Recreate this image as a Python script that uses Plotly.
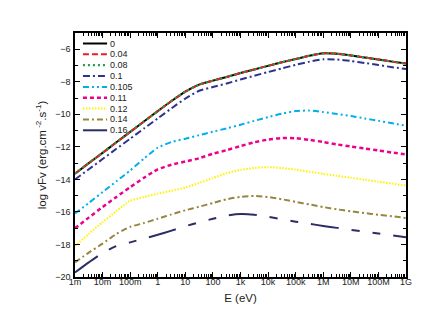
import plotly.graph_objects as go

# energies in eV (half-decade grid)
energy = [1e-3, 3.16e-3, 1e-2, 3.16e-2, 1e-1, 3.16e-1, 1, 3.16, 10, 31.6, 100, 316,
          1e3, 3.16e3, 1e4, 3.16e4, 1e5, 3.16e5, 1e6, 3.16e6, 1e7, 3.16e7, 1e8, 3.16e8, 1e9]

# log vFv for each parameter value
s_0 = [-13.65, -13.0, -12.37, -11.72, -11.08, -10.44, -9.8, -9.18, -8.6, -8.17, -7.93, -7.7,
       -7.46, -7.24, -7.02, -6.8, -6.6, -6.4, -6.25, -6.27, -6.38, -6.5, -6.63, -6.76, -6.88]
s_004 = list(s_0)
s_008 = list(s_0)
s_01 = [-14.0, -13.38, -12.75, -12.12, -11.5, -10.87, -10.25, -9.63, -9.03, -8.55, -8.32, -8.1,
        -7.86, -7.63, -7.4, -7.18, -6.96, -6.76, -6.62, -6.63, -6.72, -6.84, -6.97, -7.1, -7.22]
s_0105 = [-16.1, -15.45, -14.78, -14.12, -13.45, -12.72, -12.05, -11.7, -11.5, -11.28, -11.07, -10.86,
          -10.64, -10.4, -10.17, -9.96, -9.8, -9.77, -9.86, -9.98, -10.1, -10.25, -10.4, -10.55, -10.7]
s_011 = [-17.0, -16.35, -15.7, -15.08, -14.48, -13.9, -13.38, -13.1, -12.9, -12.7, -12.42, -12.2,
         -11.95, -11.72, -11.55, -11.46, -11.47, -11.57, -11.7, -11.85, -11.98, -12.1, -12.22, -12.35, -12.47]
s_012 = [-18.1, -17.35, -16.63, -15.95, -15.32, -15.08, -14.88, -14.7, -14.5, -14.22, -13.92, -13.62,
         -13.42, -13.3, -13.25, -13.3, -13.4, -13.53, -13.66, -13.78, -13.9, -14.02, -14.14, -14.26, -14.38]
s_014 = [-19.1, -18.5, -17.95, -17.35, -16.92, -16.68, -16.42, -16.15, -15.9, -15.68, -15.45, -15.22,
         -15.07, -15.02, -15.08, -15.22, -15.38, -15.54, -15.7, -15.84, -15.96, -16.07, -16.17, -16.27, -16.37]
s_016 = [-19.72, -19.1, -18.52, -18.1, -17.87, -17.64, -17.4, -17.15, -16.88, -16.64, -16.42, -16.22,
         -16.13, -16.17, -16.3, -16.45, -16.6, -16.73, -16.86, -16.98, -17.1, -17.22, -17.33, -17.44, -17.55]

names = ["0", "0.04", "0.08", "0.1", "0.105", "0.11", "0.12", "0.14", "0.16"]
series = [s_0, s_004, s_008, s_01, s_0105, s_011, s_012, s_014, s_016]

xtick_vals = [1e-3, 1e-2, 1e-1, 1, 10, 100, 1e3, 1e4, 1e5, 1e6, 1e7, 1e8, 1e9]
xtick_text = ["1m", "10m", "100m", "1", "10", "100", "1k", "10k", "100k", "1M", "10M", "100M", "1G"]
ytick_vals = [-20, -18, -16, -14, -12, -10, -8, -6]

colors = ["#000000", "#ed1c24", "#1fa04a", "#2e3192", "#00aeef", "#ec008c", "#fff200", "#978540", "#2b2d63"]
dashes = ["solid", "6px,3px", "2px,3px", "7px,3px,2px,3px", "6px,3px,2px,3px,2px,3px",
          "4px,3px", "1.5px,1.5px", "6px,3px,2px,3px", "28px,13px,8px,13px,8px,13px"]
widths = [2, 2, 2.2, 2, 2, 2.5, 2, 2, 2]

fig = go.Figure()
for name, ys, c, d, w in zip(names, series, colors, dashes, widths):
    fig.add_trace(go.Scatter(x=energy, y=ys, mode="lines", name=name, showlegend=False,
                             line=dict(color=c, dash=d, width=w, shape="spline", smoothing=0.6)))

# hand-made legend (plotly's own legend rows are too tall)
shapes = []
annotations = []
for i, (name, c, d, w) in enumerate(zip(names, colors, dashes, widths)):
    yp = 1 - (35.5 + i * 10.85 - 25) / 244
    shapes.append(dict(type="line", xref="paper", yref="paper", x0=0.024, x1=0.097, y0=yp, y1=yp,
                       line=dict(color=c, dash=d, width=w)))
    annotations.append(dict(xref="paper", yref="paper", x=0.1, y=yp, text=name, showarrow=False,
                            xanchor="left", yanchor="middle", font=dict(size=9, color="#222")))

axis_common = dict(showline=True, linecolor="black", linewidth=1.5, mirror="allticks",
                   ticks="inside", ticklen=5, tickcolor="black", showgrid=False, zeroline=False,
                   tickfont=dict(size=9, color="#222"))

fig.update_layout(
    width=436, height=332,
    margin=dict(l=67, r=38, t=25, b=63),
    paper_bgcolor="white", plot_bgcolor="white",
    font=dict(family="Liberation Sans, Arial, sans-serif", color="#222"),
    shapes=shapes, annotations=annotations,
    xaxis=dict(type="log", range=[-3, 9], tickmode="array", tickvals=xtick_vals, ticktext=xtick_text,
               minor=dict(dtick="D1", ticks="inside", ticklen=3, tickcolor="black"),
               ticklabelstandoff=-5,
               title=dict(text="E (eV)", font=dict(size=11.5), standoff=8), **axis_common),
    yaxis=dict(range=[-20, -5], tickmode="array", tickvals=ytick_vals,
               minor=dict(dtick=1, ticks="inside", ticklen=3, tickcolor="black"),
               ticklabelstandoff=1,
               title=dict(text="log vFv (erg.cm<sup> -2</sup>.s<sup>-1</sup>)", font=dict(size=11.5), standoff=6),
               **axis_common),
)

fig.write_html("out.html")
